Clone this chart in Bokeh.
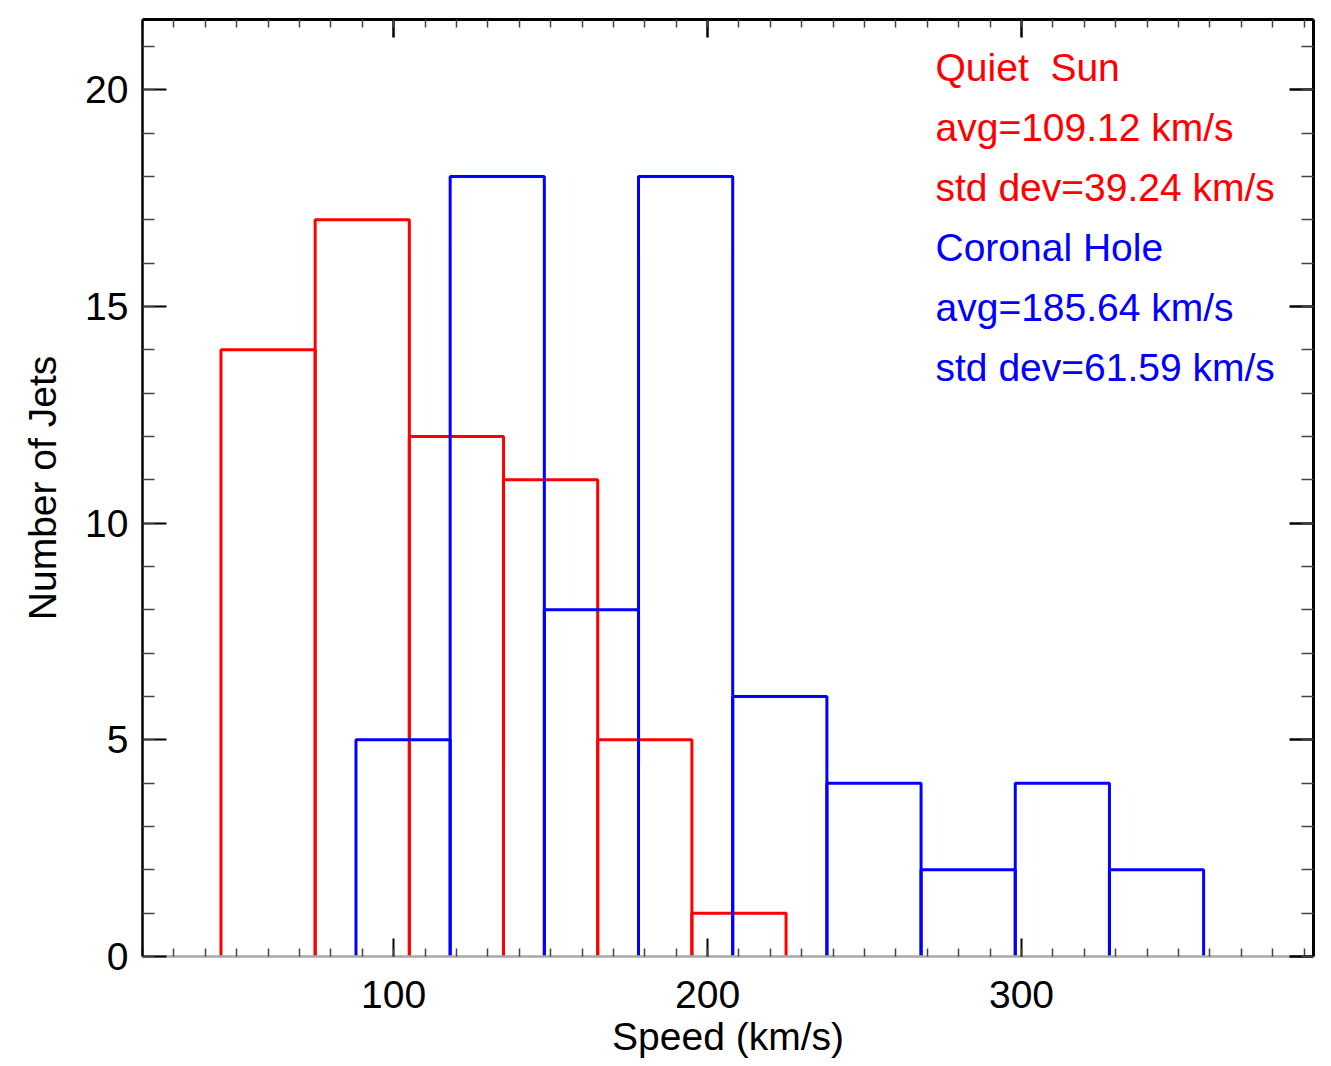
from bokeh.plotting import figure
from bokeh.models import Range1d, LinearAxis, FixedTicker, Label, CustomLabelingPolicy
from bokeh.embed import file_html
from bokeh.resources import INLINE

# ---- data ----
qs_edges = [45, 75, 105, 135, 165, 195, 225]
qs_counts = [14, 17, 12, 11, 5, 1]
ch_edges = [88, 118, 148, 178, 208, 238, 268, 298, 328, 358]
ch_counts = [5, 18, 8, 18, 6, 4, 2, 4, 2]
x_major = [100, 200, 300]
x_minor = list(range(20, 400, 10))
y_major = [0, 5, 10, 15, 20]
y_minor = list(range(0, 22, 1))
texts_red = ["Quiet \u00a0Sun", "avg=109.12 km/s", "std dev=39.24 km/s"]
texts_blue = ["Coronal Hole", "avg=185.64 km/s", "std dev=61.59 km/s"]

FONT = "Liberation Sans"
FS = "39px"

p = figure(width=1331, height=1066, output_backend="svg", toolbar_location=None,
           x_range=Range1d(20, 393), y_range=Range1d(0, 21.62),
           min_border_left=142, min_border_right=18, min_border_top=19,
           min_border_bottom=110)
p.xgrid.visible = False
p.ygrid.visible = False
p.outline_line_color = None
p.background_fill_color = "white"
p.border_fill_color = "white"


def outline(edges, counts):
    xs, ys = [], []
    for i, c in enumerate(counts):
        l, r = edges[i], edges[i + 1]
        xs.append([l, l, r, r])
        ys.append([0, c, c, 0])
    return xs, ys


xs, ys = outline(qs_edges, qs_counts)
p.multi_line(xs, ys, line_color="#ff0000", line_width=3)
xs, ys = outline(ch_edges, ch_counts)
p.multi_line(xs, ys, line_color="#0000ff", line_width=3)

# axes styling
xt = FixedTicker(ticks=x_major, minor_ticks=x_minor)
yt = FixedTicker(ticks=y_major, minor_ticks=y_minor)

xa = p.xaxis[0]
xa.ticker = xt
xa.axis_label = "Speed (km/s)"
ya = p.yaxis[0]
ya.ticker = yt
ya.axis_label = "Number of Jets"

for ax, mj, mn in ((xa, 18, 8), (ya, 24, 12)):
    ax.major_tick_in = mj
    ax.major_tick_out = 0
    ax.minor_tick_in = mn
    ax.minor_tick_out = 0
    ax.major_tick_line_color = "black"
    ax.minor_tick_line_color = "#444444"
    ax.major_tick_line_width = 2
    ax.minor_tick_line_width = 1.5
    ax.major_label_text_font = FONT
    ax.major_label_text_font_size = FS
    ax.major_label_text_color = "black"
    ax.axis_label_text_font = FONT
    ax.axis_label_text_font_size = FS
    ax.axis_label_text_font_style = "normal"
    ax.axis_label_text_color = "black"

xa.axis_line_color = "#a8a8a8"
xa.axis_line_width = 2.5
ya.axis_line_color = "black"
ya.axis_line_width = 2.5
xa.major_label_standoff = 24
xa.axis_label_standoff = 4
ya.major_label_standoff = 14
ya.axis_label_standoff = 18

no_labels = CustomLabelingPolicy(code="""
for (const i of indices) { indices.unset(i) }
return indices
""")

top = LinearAxis(ticker=FixedTicker(ticks=x_major, minor_ticks=x_minor))
right = LinearAxis(ticker=FixedTicker(ticks=y_major, minor_ticks=y_minor))
for ax, mj, mn in ((top, 18, 8), (right, 24, 12)):
    ax.major_tick_in = mj
    ax.major_tick_out = 0
    ax.minor_tick_in = mn
    ax.minor_tick_out = 0
    ax.major_tick_line_width = 2.5
    ax.minor_tick_line_width = 1.5
    ax.major_tick_line_color = "black"
    ax.minor_tick_line_color = "#444444"
    ax.major_label_policy = no_labels
    ax.major_label_text_font_size = "10px"
    ax.major_label_standoff = 0
    ax.axis_line_color = "black"
    ax.axis_line_width = 3
p.add_layout(top, "above")
p.add_layout(right, "right")

# annotation text
x0 = 272.6
y_lines = [20.52, 19.13, 17.75, 16.36, 14.98, 13.59]
for i, t in enumerate(texts_red + texts_blue):
    color = "#ff0000" if i < 3 else "#0000ff"
    p.add_layout(Label(x=x0, y=y_lines[i], text=t, text_color=color,
                       text_font=FONT, text_font_size=FS,
                       text_baseline="alphabetic", text_align="left"))

open("out.html", "w").write(file_html(p, INLINE))
